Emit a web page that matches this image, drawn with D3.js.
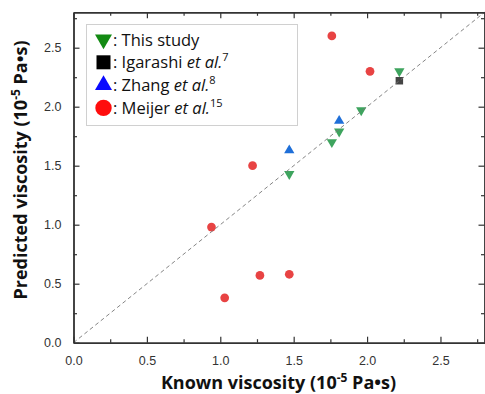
<!DOCTYPE html>
<html>
<head>
<meta charset="utf-8">
<script src="https://cdn.jsdelivr.net/npm/d3@7"></script>
<style>
  body { margin: 0; background: #fff; }
  svg { display: block; }
</style>
</head>
<body>
<div id="chart"></div>
<script>
// values (10^-5 Pa·s)
const thisStudyKnown = [1.47, 1.76, 1.81, 1.96, 2.22];
const thisStudyPred  = [1.43, 1.70, 1.79, 1.97, 2.30];
const igarashiKnown = [2.22];
const igarashiPred  = [2.22];
const zhangKnown = [1.47, 1.81];
const zhangPred  = [1.63, 1.88];
const meijerKnown = [0.94, 1.03, 1.22, 1.27, 1.47, 1.76, 2.02];
const meijerPred  = [0.98, 0.38, 1.50, 0.57, 0.58, 2.60, 2.30];
const majorTicks = [0, 0.5, 1.0, 1.5, 2.0, 2.5];
const minorTicks = [0.25, 0.75, 1.25, 1.75, 2.25, 2.75];

const width = 485, height = 394;
const margin = { top: 12.3, right: 0.5, bottom: 51.3, left: 73.5 };

const svg = d3.select("#chart").append("svg")
    .attr("width", width)
    .attr("height", height);

const x = d3.scaleLinear().domain([0, 2.8]).range([margin.left, width - margin.right]);
const y = d3.scaleLinear().domain([0, 2.8]).range([height - margin.bottom, margin.top]);

const axisColor = "#333";

// series definitions (style only, data from arrays above)
let series = [
    { name: "this", xs: thisStudyKnown, ys: thisStudyPred, shape: "down", color: "#3ea45e" },
    { name: "igarashi", xs: igarashiKnown, ys: igarashiPred, shape: "square", color: "#444444" },
    { name: "zhang", xs: zhangKnown, ys: zhangPred, shape: "up", color: "#1f6fd8" },
    { name: "meijer", xs: meijerKnown, ys: meijerPred, shape: "circle", color: "#e84343" }
];

function symbolPath(shape, size) {
    if (shape === "circle") return d3.symbol(d3.symbolCircle, size)();
    if (shape === "square") return d3.symbol(d3.symbolSquare, size)();
    return d3.symbol(d3.symbolTriangle, size)();
}

// markers
series.forEach(s => {
    let pts = s.xs.map((v, i) => [v, s.ys[i]]);
    let size = s.shape === "circle" ? 60 : s.shape === "square" ? 56 : 46;
    svg.append("g").selectAll("path")
        .data(pts)
        .enter().append("path")
        .attr("d", symbolPath(s.shape, size))
        .attr("transform", d => "translate(" + x(d[0]) + "," + y(d[1]) + ")" + (s.shape === "down" ? " rotate(180)" : ""))
        .attr("fill", s.color);
});

// y = x reference line
svg.append("line")
    .attr("x1", x(0)).attr("y1", y(0))
    .attr("x2", x(2.8)).attr("y2", y(2.8))
    .attr("stroke", "#777")
    .attr("stroke-width", 0.9)
    .attr("stroke-dasharray", "4,3");

// axes with inward ticks
function styleAxis(g) {
    g.select(".domain").attr("stroke", axisColor).attr("stroke-width", 1.4);
    g.selectAll(".tick line").attr("stroke", axisColor).attr("stroke-width", 1.2);
    g.selectAll("text").attr("fill", "#333")
        .style("font-family", "'Liberation Sans', Arial, sans-serif")
        .style("font-size", "12.5px");
}

const fmt = d3.format(".1f");

svg.append("g")
    .attr("transform", "translate(0," + y(0) + ")")
    .call(d3.axisBottom(x).tickValues(majorTicks).tickFormat(fmt).tickSizeInner(-6).tickSizeOuter(0).tickPadding(13))
    .call(styleAxis);
svg.append("g")
    .attr("transform", "translate(0," + y(0) + ")")
    .call(d3.axisBottom(x).tickValues(minorTicks).tickFormat("").tickSizeInner(-3.5).tickSizeOuter(0))
    .call(styleAxis);

svg.append("g")
    .attr("transform", "translate(" + x(0) + ",0)")
    .call(d3.axisLeft(y).tickValues(majorTicks).tickFormat(fmt).tickSizeInner(-6).tickSizeOuter(0).tickPadding(12))
    .call(styleAxis);
svg.append("g")
    .attr("transform", "translate(" + x(0) + ",0)")
    .call(d3.axisLeft(y).tickValues(minorTicks).tickFormat("").tickSizeInner(-3.5).tickSizeOuter(0))
    .call(styleAxis);

svg.append("g")
    .attr("transform", "translate(0," + y(2.8) + ")")
    .call(d3.axisTop(x).tickValues(majorTicks).tickFormat("").tickSizeInner(-6).tickSizeOuter(0))
    .call(styleAxis);
svg.append("g")
    .attr("transform", "translate(0," + y(2.8) + ")")
    .call(d3.axisTop(x).tickValues(minorTicks).tickFormat("").tickSizeInner(-3.5).tickSizeOuter(0))
    .call(styleAxis);

svg.append("g")
    .attr("transform", "translate(" + x(2.8) + ",0)")
    .call(d3.axisRight(y).tickValues(majorTicks).tickFormat("").tickSizeInner(-6).tickSizeOuter(0))
    .call(styleAxis);
svg.append("g")
    .attr("transform", "translate(" + x(2.8) + ",0)")
    .call(d3.axisRight(y).tickValues(minorTicks).tickFormat("").tickSizeInner(-3.5).tickSizeOuter(0))
    .call(styleAxis);

// axis titles
const titleFont = "'Open Sans', 'Noto Sans', sans-serif";

function addTitle(sel, label) {
    sel.append("tspan").text(label + " (10");
    sel.append("tspan").text("-5").attr("dy", -7).style("font-size", "12px");
    sel.append("tspan").text(" Pa\u2022s)").attr("dy", 7);
}

let xTitle = svg.append("text")
    .attr("x", 278.5).attr("y", 388.5)
    .attr("text-anchor", "middle")
    .style("font-family", titleFont)
    .style("font-weight", "bold")
    .style("font-size", "18px")
    .attr("fill", "#111");
addTitle(xTitle, "Known viscosity");

let yTitle = svg.append("text")
    .attr("transform", "translate(26.5,170) rotate(-90)")
    .attr("text-anchor", "middle")
    .style("font-family", titleFont)
    .style("font-weight", "bold")
    .style("font-size", "18px")
    .attr("fill", "#111");
addTitle(yTitle, "Predicted viscosity");

// legend
const legendColors = ["#138a13", "#000000", "#0a0aff", "#ff0d0d"];
const legendLabels = [
    ["This study", "", ""],
    ["Igarashi ", "et al.", "7"],
    ["Zhang ", "et al.", "8"],
    ["Meijer ", "et al.", "15"]
];

let legend = svg.append("g");
legend.append("rect")
    .attr("x", 86.5).attr("y", 24.5)
    .attr("width", 211).attr("height", 101)
    .attr("fill", "#fff")
    .attr("stroke", "#d0d0d0")
    .attr("stroke-width", 1);

series.forEach((s, i) => {
    let cy = 39.5 + i * 22.8;
    let size = s.shape === "circle" ? 210 : s.shape === "square" ? 196 : 125;
    legend.append("path")
        .attr("d", symbolPath(s.shape, size))
        .attr("transform", "translate(103.5," + cy + ")" + (s.shape === "down" ? " rotate(180)" : ""))
        .attr("fill", legendColors[i]);

    let t = legend.append("text")
        .attr("x", 113).attr("y", cy + 6)
        .style("font-family", "'Open Sans', 'Noto Sans', sans-serif")
        .style("font-size", "16.5px")
        .attr("fill", "#111");
    t.append("tspan").text(": " + legendLabels[i][0]);
    if (legendLabels[i][1]) {
        t.append("tspan").text(legendLabels[i][1]).style("font-style", "italic");
        t.append("tspan").text(legendLabels[i][2]).attr("dy", -7).style("font-size", "11px");
    }
});
</script>
</body>
</html>
